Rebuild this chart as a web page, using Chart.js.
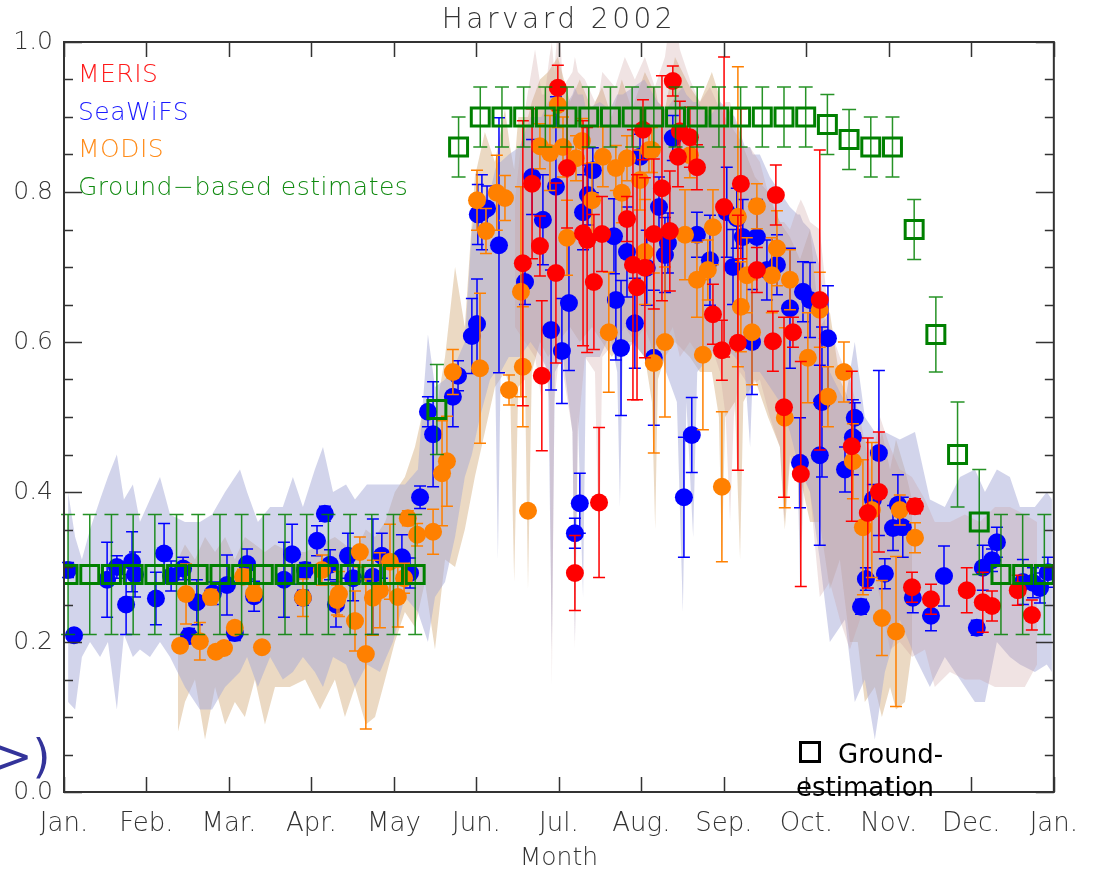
<!DOCTYPE html>
<html><head><meta charset="utf-8">
<script src="https://cdn.jsdelivr.net/npm/chart.js@4.4.1/dist/chart.umd.min.js"></script>
<style>html,body{margin:0;padding:0;background:#fff;}#wrap{width:1095px;height:873px;}</style>
</head><body><div id="wrap"><canvas id="c" width="1095" height="873"></canvas></div>
<script>
// ---------- tick labels ----------
const monthLabels = ['Jan.','Feb.','Mar.','Apr.','May','Jun.','Jul.','Aug.','Sep.','Oct.','Nov.','Dec.','Jan.'];
const yTickValues = [0, 0.2, 0.4, 0.6, 0.8, 1.0];

// ---------- Ground-based estimates (8-day) ----------
const groundDay = [1.5,9.5,17.5,25.5,33.5,41.5,49.5,57.5,65.5,73.5,81.5,89.5,97.5,105.5,113.5,121.5,129.5,137.5,145.5,153.5,161.5,169.5,177.5,185.5,193.5,201.5,209.5,217.5,225.5,233.5,241.5,249.5,257.5,265.5,273.5,281.5,289.5,297.5,305.5,313.5,321.5,329.5,337.5,345.5,353.5,361.5];
const groundVal = [0.29,0.29,0.29,0.29,0.29,0.29,0.29,0.29,0.29,0.29,0.29,0.29,0.29,0.29,0.29,0.29,0.29,0.51,0.86,0.90,0.90,0.90,0.90,0.90,0.90,0.90,0.90,0.90,0.90,0.90,0.90,0.90,0.90,0.90,0.90,0.89,0.87,0.86,0.86,0.75,0.61,0.45,0.36,0.29,0.29,0.29];
const groundErr = [0.08,0.08,0.08,0.08,0.08,0.08,0.08,0.08,0.08,0.08,0.08,0.08,0.08,0.08,0.08,0.08,0.08,0.06,0.04,0.04,0.04,0.04,0.04,0.04,0.04,0.04,0.04,0.04,0.04,0.04,0.04,0.04,0.04,0.04,0.04,0.04,0.04,0.04,0.04,0.04,0.05,0.07,0.07,0.08,0.08,0.08];

// ---------- SeaWiFS ----------
const seawifsDay = [1.5,3.7,15.9,19.5,22.9,25.1,26.2,33.9,36.9,39.5,43.9,46.1,49.0,54.9,60.1,63.0,67.5,70.1,81.1,84.1,88.1,88.9,93.3,96.2,98.1,100.3,104.7,106.6,113.9,117.2,124.6,127.6,131.3,134.2,136.1,143.4,145.3,150.4,152.3,152.6,154.1,156.0,160.4,170.0,172.6,176.6,179.6,181.4,183.6,186.2,188.4,190.2,191.4,193.2,195.0,202.8,203.5,205.4,207.6,210.5,212.4,214.9,217.5,219.4,221.6,222.7,224.5,228.6,231.5,233.4,238.2,244.4,246.7,248.1,250.3,253.7,255.5,259.2,262.9,267.7,271.4,272.5,275.1,278.7,279.5,281.7,288.0,290.9,291.6,293.9,295.7,298.3,300.5,302.7,305.7,307.5,309.3,313.0,319.7,324.5,336.6,338.8,342.2,344.0,353.6,357.3,359.9,362.8];
const seawifsVal = [0.296,0.209,0.283,0.30,0.25,0.307,0.29,0.258,0.318,0.288,0.298,0.208,0.253,0.265,0.276,0.212,0.304,0.261,0.283,0.317,0.259,0.296,0.335,0.371,0.303,0.25,0.315,0.285,0.287,0.315,0.313,0.292,0.393,0.507,0.477,0.527,0.555,0.608,0.624,0.77,0.773,0.778,0.729,0.68,0.82,0.763,0.616,0.807,0.588,0.652,0.345,0.385,0.773,0.796,0.829,0.741,0.656,0.592,0.72,0.625,0.847,0.699,0.579,0.78,0.716,0.732,0.872,0.393,0.476,0.743,0.709,0.773,0.70,0.765,0.74,0.60,0.74,0.696,0.703,0.645,0.439,0.667,0.656,0.449,0.52,0.605,0.43,0.473,0.499,0.247,0.284,0.39,0.452,0.291,0.352,0.383,0.353,0.259,0.235,0.288,0.219,0.299,0.309,0.333,0.28,0.279,0.272,0.293];
const seawifsErr = [0.01,0.005,0.05,0.015,0.04,0.04,0.03,0.035,0.04,0.02,0.015,0.01,0.03,0.015,0.04,0.01,0.02,0.02,0.05,0.04,0.01,0.01,0.02,0.01,0.02,0.03,0.03,0.03,0.077,0.03,0.03,0.02,0.015,0.02,0.07,0.04,0.02,0.05,0.06,0.04,0.05,0.03,0.17,0.03,0.05,0.06,0.08,0.12,0.07,0.09,0.02,0.04,0.05,0.04,0.03,0.05,0.08,0.09,0.06,0.06,0.03,0.05,0.09,0.04,0.05,0.04,0.03,0.08,0.05,0.03,0.06,0.06,0.05,0.04,0.05,0.07,0.05,0.04,0.04,0.08,0.06,0.04,0.05,0.12,0.10,0.07,0.03,0.05,0.02,0.01,0.015,0.02,0.11,0.02,0.03,0.04,0.04,0.02,0.02,0.04,0.01,0.03,0.015,0.02,0.03,0.02,0.02,0.02];

// ---------- MODIS ----------
const modisDay = [42.8,45.0,50.1,54.2,56.0,59.0,63.0,66.0,70.1,73.0,88.1,95.1,100.7,101.4,107.3,109.1,111.3,113.9,116.5,120.2,123.1,125.4,126.8,130.2,136.1,139.4,141.2,143.4,153.4,152.3,155.6,159.6,162.6,164.1,168.5,169.2,171.1,175.5,179.2,182.1,184.0,185.5,188.8,191.0,194.7,198.7,200.9,203.5,205.7,207.6,212.4,214.2,215.7,216.8,217.5,221.6,229.0,230.8,233.4,235.6,237.4,239.3,242.6,248.5,249.6,251.8,253.7,255.5,261.0,262.9,265.8,267.7,274.3,278.7,281.7,287.6,290.9,294.6,297.9,301.6,306.8,308.2,313.8];
const modisVal = [0.195,0.264,0.201,0.26,0.187,0.192,0.219,0.287,0.265,0.193,0.259,0.296,0.256,0.264,0.228,0.32,0.184,0.259,0.269,0.307,0.26,0.285,0.365,0.343,0.347,0.425,0.441,0.56,0.565,0.789,0.748,0.799,0.792,0.536,0.667,0.567,0.375,0.861,0.852,0.916,0.86,0.739,0.845,0.868,0.789,0.847,0.613,0.832,0.799,0.845,0.816,0.72,0.856,0.856,0.572,0.60,0.743,0.849,0.683,0.583,0.696,0.753,0.407,0.767,0.647,0.689,0.613,0.781,0.689,0.725,0.499,0.683,0.579,0.643,0.527,0.56,0.441,0.353,0.376,0.232,0.214,0.376,0.339];
const modisErr = [0.005,0.04,0.025,0.01,0.005,0.005,0.005,0.01,0.01,0.005,0.025,0.02,0.02,0.03,0.04,0.02,0.1,0.05,0.05,0.05,0.04,0.02,0.01,0.015,0.03,0.07,0.06,0.03,0.1,0.04,0.03,0.05,0.03,0.02,0.14,0.08,0.005,0.03,0.05,0.03,0.04,0.05,0.03,0.03,0.05,0.04,0.08,0.03,0.04,0.03,0.04,0.07,0.03,0.03,0.12,0.1,0.06,0.03,0.05,0.1,0.04,0.05,0.1,0.2,0.06,0.05,0.07,0.03,0.05,0.05,0.12,0.04,0.06,0.05,0.04,0.04,0.05,0.09,0.09,0.05,0.1,0.02,0.02];

// ---------- MERIS ----------
const merisDay = [176.2,188.4,197.3,169.2,172.6,175.5,181.4,182.1,185.5,191.4,192.9,195.4,198.4,207.6,209.8,211.3,213.5,214.2,217.5,220.5,223.4,224.5,226.4,227.1,230.8,233.4,239.3,242.6,243.4,248.5,249.6,255.5,261.4,262.5,265.5,268.8,271.7,278.7,290.5,296.4,300.5,312.7,313.8,319.7,332.9,338.8,342.2,351.7,356.9];
const merisVal = [0.555,0.292,0.386,0.705,0.811,0.728,0.692,0.939,0.832,0.745,0.736,0.68,0.744,0.764,0.703,0.673,0.883,0.699,0.744,0.805,0.748,0.948,0.847,0.881,0.873,0.833,0.637,0.589,0.78,0.599,0.811,0.696,0.601,0.796,0.513,0.613,0.424,0.656,0.461,0.372,0.40,0.273,0.381,0.257,0.269,0.253,0.248,0.269,0.236];
const merisErr = [0.1,0.05,0.1,0.19,0.1,0.04,0.12,0.03,0.08,0.15,0.15,0.09,0.05,0.03,0.18,0.15,0.04,0.12,0.1,0.15,0.08,0.02,0.04,0.04,0.04,0.03,0.04,0.04,0.2,0.17,0.1,0.03,0.04,0.04,0.12,0.02,0.15,0.2,0.1,0.1,0.08,0.02,0.01,0.02,0.03,0.04,0.02,0.02,0.02];

// ---------- variability envelopes ----------
const seawifsBandDay = [1.5,4.1,6.6,9.6,13.3,16.2,19.5,22.1,25.4,28.0,31.7,35.4,39.1,44.6,50.1,54.6,59.4,64.9,67.5,71.5,76.0,80.7,84.4,88.1,92.5,95.5,99.2,104.0,107.3,111.7,116.5,121.3,125.7,130.5,
  134.2,136.8,140.5,144.2,147.8,150.4,153.4,157.1,159.0,160.0,161.0,164.0,168.0,172.0,176.0,178.5,179.9,181.0,184.0,187.5,188.4,189.5,191.4,192.5,197.6,201.3,204.0,205.0,206.0,210.0,214.0,219.0,222.0,226.0,228.2,229.5,232.0,233.5,238.0,242.0,247.4,251.1,253.0,254.0,256.6,260.3,264.0,267.7,270.5,271.4,272.5,275.1,278.7,282.4,
  288.0,291.6,295.3,299.0,302.7,308.2,313.8,319.3,324.8,330.4,335.9,339.6,344.0,348.8,352.5,358.0,362.4,364.3];
const seawifsBandHigh = [0.40,0.34,0.31,0.35,0.39,0.42,0.45,0.39,0.41,0.36,0.39,0.42,0.37,0.36,0.36,0.37,0.40,0.43,0.40,0.36,0.38,0.38,0.42,0.38,0.43,0.46,0.40,0.41,0.39,0.41,0.41,0.41,0.41,0.43,
  0.61,0.54,0.55,0.57,0.60,0.75,0.79,0.80,0.83,0.84,0.84,0.85,0.86,0.90,0.90,0.92,0.93,0.90,0.91,0.93,0.94,0.93,0.93,0.91,0.92,0.91,0.93,0.93,0.93,0.94,0.95,0.92,0.91,0.93,0.94,0.93,0.92,0.92,0.90,0.92,0.90,0.86,0.86,0.85,0.85,0.82,0.80,0.78,0.77,0.77,0.76,0.75,0.70,0.56,
  0.52,0.60,0.50,0.48,0.48,0.47,0.48,0.39,0.38,0.42,0.43,0.40,0.43,0.42,0.38,0.38,0.40,0.39];
const seawifsBandLow = [0.12,0.11,0.18,0.20,0.18,0.20,0.11,0.21,0.18,0.19,0.18,0.20,0.18,0.14,0.11,0.11,0.14,0.16,0.18,0.14,0.18,0.15,0.16,0.18,0.16,0.14,0.18,0.17,0.14,0.17,0.16,0.20,0.26,0.24,
  0.20,0.26,0.28,0.34,0.42,0.45,0.50,0.55,0.56,0.31,0.56,0.58,0.58,0.60,0.58,0.56,0.19,0.56,0.58,0.48,0.20,0.50,0.26,0.58,0.58,0.61,0.56,0.38,0.58,0.60,0.58,0.60,0.56,0.52,0.24,0.52,0.34,0.56,0.58,0.60,0.58,0.56,0.46,0.56,0.56,0.54,0.52,0.48,0.44,0.28,0.42,0.40,0.31,0.20,
  0.23,0.12,0.15,0.07,0.16,0.23,0.18,0.14,0.18,0.15,0.12,0.12,0.20,0.18,0.17,0.16,0.17,0.16];

const modisBandDay = [42.0,44.6,48.3,52.0,55.7,59.4,63.0,66.7,70.4,74.1,77.8,83.3,88.9,94.4,99.9,103.6,107.3,111.3,114.7,118.4,122.0,125.7,129.4,133.1,136.8,140.5,
  144.2,147.8,151.5,155.2,158.9,162.6,164.5,166.0,167.5,170.0,171.1,172.5,175.5,178.5,182.1,186.6,190.2,194.7,198.4,202.0,205.7,209.4,214.2,216.8,218.0,219.0,221.6,225.3,230.8,234.5,238.9,241.5,242.6,243.8,247.4,249.3,250.5,254.8,259.6,264.0,265.8,267.7,271.4,275.1,278.7,
  282.4,286.1,289.8,292.7,295.3,299.0,301.6,304.6,306.8,310.1,312.7];
const modisBandHigh = [0.31,0.33,0.31,0.34,0.32,0.34,0.31,0.34,0.33,0.32,0.33,0.32,0.32,0.33,0.34,0.33,0.32,0.35,0.34,0.36,0.40,0.42,0.46,0.52,0.50,0.58,
  0.70,0.62,0.82,0.88,0.84,0.91,0.86,0.83,0.90,0.90,0.90,0.92,0.95,0.96,0.98,0.92,0.95,0.91,0.94,0.90,0.95,0.91,0.96,0.94,0.94,0.92,0.91,0.98,0.94,0.92,0.96,0.93,0.91,0.90,0.88,0.87,0.86,0.82,0.80,0.76,0.75,0.74,0.71,0.75,0.62,
  0.64,0.55,0.52,0.48,0.47,0.44,0.48,0.43,0.47,0.43,0.39];
const modisBandLow = [0.08,0.12,0.15,0.07,0.14,0.09,0.12,0.10,0.15,0.09,0.14,0.14,0.15,0.11,0.15,0.10,0.14,0.09,0.10,0.15,0.20,0.24,0.22,0.28,0.19,0.31,
  0.30,0.35,0.42,0.48,0.54,0.56,0.54,0.28,0.54,0.55,0.27,0.56,0.60,0.58,0.60,0.62,0.60,0.62,0.60,0.58,0.60,0.60,0.58,0.52,0.35,0.55,0.58,0.60,0.58,0.56,0.56,0.50,0.31,0.50,0.52,0.31,0.52,0.55,0.50,0.46,0.35,0.44,0.42,0.36,0.36,
  0.27,0.31,0.20,0.20,0.12,0.14,0.10,0.14,0.11,0.12,0.19];

const merisBandDay = [166.3,170.0,173.7,176.2,177.3,179.0,179.9,180.8,182.5,184.0,187.5,188.4,189.5,192.1,195.8,197.3,198.5,203.2,206.8,210.5,214.2,217.9,221.6,224.5,227.1,230.8,234.5,238.2,241.9,244.0,245.6,247.0,249.2,252.9,256.6,260.3,264.0,265.5,267.7,270.5,271.7,273.0,275.1,278.7,
  282.4,286.1,289.8,293.5,297.2,300.9,304.6,308.2,312.7,317.5,321.1,326.7,332.2,337.7,343.3,348.8,354.3,358.8];
const merisBandHigh = [0.79,0.91,0.99,0.93,0.93,0.98,1.00,0.96,1.04,0.94,0.96,0.98,0.96,0.95,0.92,0.93,0.96,0.94,0.98,0.95,0.98,0.94,0.98,1.06,0.99,0.95,0.92,0.94,0.91,0.92,0.92,0.90,0.86,0.86,0.84,0.79,0.76,0.76,0.75,0.78,0.79,0.78,0.76,0.75,
  0.62,0.58,0.55,0.50,0.43,0.50,0.46,0.43,0.42,0.39,0.36,0.36,0.37,0.36,0.38,0.38,0.37,0.36];
const merisBandLow = [0.62,0.60,0.58,0.52,0.58,0.52,0.14,0.52,0.58,0.56,0.48,0.19,0.48,0.58,0.56,0.30,0.58,0.60,0.62,0.60,0.62,0.58,0.60,0.62,0.58,0.60,0.58,0.60,0.56,0.50,0.36,0.50,0.56,0.54,0.55,0.50,0.46,0.36,0.45,0.42,0.30,0.42,0.40,0.26,
  0.28,0.23,0.19,0.23,0.31,0.26,0.19,0.20,0.18,0.19,0.14,0.16,0.15,0.15,0.14,0.14,0.14,0.17];

// ---------- build ----------
const pts = (xs, ys) => xs.map((x, i) => ({x, y: ys[i]}));
const FONT = "'DejaVu Sans', 'Liberation Sans', sans-serif";
const TXT = '#333333';

function band(days, hi, lo, color, order) {
  return [
    {type:'line', data: pts(days, hi), fill: '+1', backgroundColor: color, borderColor: 'rgba(0,0,0,0)', borderWidth: 1, pointRadius: 0, tension: 0, order},
    {type:'line', data: pts(days, lo), fill: false, borderColor: 'rgba(0,0,0,0)', borderWidth: 1, pointRadius: 0, tension: 0, order}
  ];
}
function scat(days, vals, errs, color, order, extra) {
  return Object.assign({type:'scatter', data: pts(days, vals), errors: errs, errorColor: color, capHalf: 6,
    pointRadius: 9, pointHoverRadius: 9, pointBackgroundColor: color, pointBorderWidth: 0, showLine: false, order}, extra || {});
}

const datasets = [
  ...band(modisBandDay, modisBandHigh, modisBandLow, 'rgba(205,160,105,0.4)', 6),
  ...band(seawifsBandDay, seawifsBandHigh, seawifsBandLow, 'rgba(165,170,215,0.5)', 5),
  ...band(merisBandDay, merisBandHigh, merisBandLow, 'rgba(200,150,150,0.27)', 4),
  scat(seawifsDay, seawifsVal, seawifsErr, '#0000ff', 3),
  scat(modisDay, modisVal, modisErr, '#ff8000', 2),
  scat(merisDay, merisVal, merisErr, '#ff0000', 1),
  scat(groundDay, groundVal, groundErr, '#008000', 0, {pointStyle:'rect', pointRadius: 12.7, pointHoverRadius: 12.7,
     pointBackgroundColor:'rgba(0,0,0,0)', pointBorderColor:'#008000', pointBorderWidth:3, errorColor:'rgba(0,128,0,0.85)', capHalf: 7})
];

const monthTicks = monthLabels.map((_, i) => i * 365 / 12);

const errorBars = {
  id: 'errorBars',
  beforeDatasetDraw(chart, args) {
    const ds = chart.data.datasets[args.index];
    if (!ds.errors) return;
    const ctx = chart.ctx, ys = chart.scales.y;
    ctx.save();
    ctx.strokeStyle = ds.errorColor;
    ctx.lineWidth = 1.5;
    const c = ds.capHalf;
    args.meta.data.forEach((el, i) => {
      const e = ds.errors[i];
      if (!e) return;
      const v = ds.data[i].y;
      const x = el.x, y1 = ys.getPixelForValue(v - e), y2 = ys.getPixelForValue(v + e);
      ctx.beginPath();
      ctx.moveTo(x, y1); ctx.lineTo(x, y2);
      ctx.moveTo(x - c, y1); ctx.lineTo(x + c, y1);
      ctx.moveTo(x - c, y2); ctx.lineTo(x + c, y2);
      ctx.stroke();
    });
    ctx.restore();
  }
};

const frame = {
  id: 'frame',
  afterDraw(chart) {
    const {ctx, chartArea: a, scales: {x, y}} = chart;
    ctx.save();
    ctx.strokeStyle = '#333';
    ctx.lineWidth = 2;
    ctx.strokeRect(a.left, a.top, a.right - a.left, a.bottom - a.top);
    ctx.lineWidth = 1.5;
    ctx.beginPath();
    monthTicks.forEach(v => {
      const px = Math.round(x.getPixelForValue(v)) + 0.5;
      ctx.moveTo(px, a.bottom); ctx.lineTo(px, a.bottom - 15);
      ctx.moveTo(px, a.top); ctx.lineTo(px, a.top + 15);
    });
    for (let k = 0; k <= 20; k++) {
      const py = Math.round(y.getPixelForValue(k * 0.05)) + 0.5;
      const len = (k % 4 === 0) ? 18 : 9;
      ctx.moveTo(a.left, py); ctx.lineTo(a.left + len, py);
      ctx.moveTo(a.right, py); ctx.lineTo(a.right - len, py);
    }
    ctx.stroke();

    // title
    ctx.fillStyle = TXT;
    ctx.font = `200 28px ${FONT}`;
    ctx.textAlign = 'center';
    ctx.textBaseline = 'alphabetic';
    ctx.letterSpacing = '3.5px';
    ctx.fillText('Harvard 2002', (a.left + a.right) / 2, 28);

    // in-plot legend
    ctx.textAlign = 'left';
    ctx.font = `200 25px ${FONT}`;
    ctx.letterSpacing = '0.5px';
    const leg = [['MERIS','#ff1a1a'],['SeaWiFS','#1a1aff'],['MODIS','#ff8c1a'],['Ground\u2212based estimates','#108a10']];
    leg.forEach(([t, c], i) => { ctx.fillStyle = c; ctx.fillText(t, 78, 82 + i * 37.5); });

    // stray annotations
    ctx.letterSpacing = '0px';
    ctx.fillStyle = '#33339a';
    ctx.font = `46px ${FONT}`;
    ctx.fillText('>)', -6, 772);
    ctx.fillStyle = '#000';
    ctx.font = `26px ${FONT}`;
    ctx.fillText('Ground-', 838, 763);
    ctx.fillText('estimation', 796, 796);
    ctx.lineWidth = 3;
    ctx.strokeStyle = '#000';
    ctx.strokeRect(800.5, 742.5, 19, 19);
    ctx.restore();
  }
};

new Chart(document.getElementById('c'), {
  type: 'scatter',
  data: { datasets },
  options: {
    responsive: false,
    animation: false,
    events: [],
    layout: { padding: { top: 42, right: 40, left: 0, bottom: 0 } },
    plugins: { legend: { display: false }, tooltip: { enabled: false }, title: { display: false } },
    scales: {
      x: {
        type: 'linear', min: 0, max: 365,
        afterBuildTicks: s => { s.ticks = monthTicks.map(v => ({ value: v })); },
        afterFit: s => { s.height = 81; },
        grid: { display: false, drawTicks: false },
        border: { display: false },
        ticks: { autoSkip: false, maxRotation: 0, padding: 17, color: TXT, font: { family: FONT, size: 26, weight: 200 },
                 callback: (v, i) => monthLabels[i] },
        title: { display: true, text: 'Month', color: TXT, font: { family: FONT, size: 25, weight: 200 }, padding: { top: 0, bottom: 0 } }
      },
      y: {
        type: 'linear', min: 0, max: 1,
        afterBuildTicks: s => { s.ticks = yTickValues.map(v => ({ value: v })); },
        afterFit: s => { s.width = 64; },
        grid: { display: false, drawTicks: false },
        border: { display: false },
        ticks: { padding: 11, color: TXT, font: { family: FONT, size: 25, weight: 200 }, callback: v => v.toFixed(1) }
      }
    }
  },
  plugins: [errorBars, frame]
});
</script>
</body></html>
